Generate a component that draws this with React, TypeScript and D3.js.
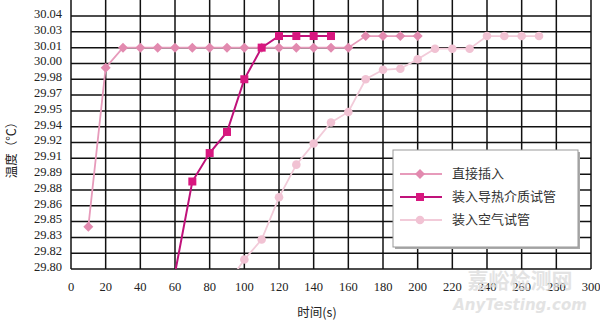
import React from "react";
import * as d3 from "d3";

const timeDirect = [10, 20, 30, 40, 50, 60, 70, 80, 90, 100, 110, 120, 130, 140, 150, 160, 170, 180, 190, 200];
const tempDirect = [29.84, 29.991, 30.01, 30.01, 30.01, 30.01, 30.01, 30.01, 30.01, 30.01, 30.01, 30.01, 30.01, 30.01, 30.01, 30.01, 30.021, 30.021, 30.021, 30.021];

const timeMedium = [60, 70, 80, 90, 100, 110, 120, 130, 140, 150];
const tempMedium = [29.796, 29.883, 29.91, 29.93, 29.98, 30.01, 30.021, 30.021, 30.021, 30.021];

const timeAir = [90, 100, 110, 120, 130, 140, 150, 160, 170, 180, 190, 200, 210, 220, 230, 240, 250, 260, 270];
const tempAir = [29.785, 29.809, 29.828, 29.868, 29.899, 29.919, 29.939, 29.949, 29.98, 29.989, 29.99, 29.999, 30.009, 30.009, 30.009, 30.021, 30.021, 30.021, 30.021];

const xTicks = [0, 20, 40, 60, 80, 100, 120, 140, 160, 180, 200, 220, 240, 260, 280, 300];
const yTicks = [29.8, 29.815, 29.83, 29.845, 29.86, 29.875, 29.89, 29.905, 29.92, 29.935, 29.95, 29.965, 29.98, 29.995, 30.01, 30.025, 30.04];
const yTickLabels = ["29.80", "29.82", "29.83", "29.85", "29.86", "29.88", "29.89", "29.91", "29.92", "29.94", "29.95", "29.97", "29.98", "30.00", "30.01", "30.03", "30.04"];

const seriesNames = ["直接插入", "装入导热介质试管", "装入空气试管"];

const W = 600, H = 321;
const L = 71, R = 591, B = 269, T = 0;

export default function App() {
  const x = d3.scaleLinear().domain([0, 300]).range([L, R]);
  const y = d3.scaleLinear().domain([29.8, 30.04]).range([B, 16]);
  const line = d3.line<[number, number]>().x(d => x(d[0])).y(d => y(d[1]));

  const s1 = timeDirect.map((t, i) => [t, tempDirect[i]] as [number, number]);
  const s2 = timeMedium.map((t, i) => [t, tempMedium[i]] as [number, number]);
  const s3 = timeAir.map((t, i) => [t, tempAir[i]] as [number, number]);

  const serif = "'Liberation Serif', 'Times New Roman', serif";
  const cjk = "'Noto Sans CJK SC', sans-serif";

  const c1 = { line: "#e79bbb", mark: "#e28aaf" };
  const c2 = { line: "#c0127a", mark: "#d8177f" };
  const c3 = { line: "#f2cbd9", mark: "#f1c2d3" };

  const diamond = (cx: number, cy: number, fill: string, k: string) => (
    <path key={k} d={`M${cx},${cy - 5}L${cx + 5},${cy}L${cx},${cy + 5}L${cx - 5},${cy}Z`} fill={fill} />
  );
  const square = (cx: number, cy: number, fill: string, k: string) => (
    <rect key={k} x={cx - 4} y={cy - 4} width={8} height={8} fill={fill} />
  );
  const circle = (cx: number, cy: number, fill: string, k: string) => (
    <circle key={k} cx={cx} cy={cy} r={4.3} fill={fill} />
  );

  const legendItems = [
    { name: seriesNames[0], c: c1, m: diamond, w: 1.8 },
    { name: seriesNames[1], c: c2, m: square, w: 2 },
    { name: seriesNames[2], c: c3, m: circle, w: 1.8 },
  ];
  const legendY = [174, 197, 220];

  return (
    <svg width={W} height={H} style={{ position: "absolute", left: 0, top: 0, background: "#fff" }}>
      <defs>
        <clipPath id="plot">
          <rect x={L} y={T} width={R - L} height={B - T} />
        </clipPath>
      </defs>
      {/* grid */}
      {yTicks.map((v, i) => (
        <line key={"h" + i} x1={L} x2={R} y1={y(v)} y2={y(v)} stroke="#111" strokeWidth={1.5} />
      ))}
      {xTicks.map((v, i) => (
        <line key={"v" + i} x1={x(v)} x2={x(v)} y1={T} y2={B} stroke="#111" strokeWidth={1.5} />
      ))}
      {/* series */}
      <g clipPath="url(#plot)">
        <path d={line(s3) || ""} fill="none" stroke={c3.line} strokeWidth={1.8} />
        <path d={line(s1) || ""} fill="none" stroke={c1.line} strokeWidth={1.8} />
        <path d={line(s2) || ""} fill="none" stroke={c2.line} strokeWidth={2} />
        {s3.map((d, i) => circle(x(d[0]), y(d[1]), c3.mark, "c" + i))}
        {s1.map((d, i) => diamond(x(d[0]), y(d[1]), c1.mark, "d" + i))}
        {s2.map((d, i) => square(x(d[0]), y(d[1]), c2.mark, "s" + i))}
      </g>
      {/* y labels */}
      {yTicks.map((v, i) => (
        <text key={"yl" + i} x={62} y={y(v) - 1} textAnchor="end" dominantBaseline="middle" fontFamily={serif} fontSize={12.5} fill="#222">
          {yTickLabels[i]}
        </text>
      ))}
      {/* x labels */}
      {xTicks.map((v, i) => (
        <text key={"xl" + i} x={x(v)} y={288} textAnchor="middle" dominantBaseline="middle" fontFamily={serif} fontSize={12.5} fill="#222">
          {v}
        </text>
      ))}
      {/* axis titles */}
      <text x={317} y={314} textAnchor="middle" dominantBaseline="middle" fontFamily={cjk} fontSize={12.5} fill="#222">
        时间(s)
      </text>
      <text transform="translate(13,147) rotate(-90)" textAnchor="middle" dominantBaseline="middle" fontFamily={cjk} fontSize={12.5} fill="#222">
        温度（℃）
      </text>
      {/* legend */}
      <rect x={395} y={152} width={185} height={97} fill="#aaa" />
      <rect x={393} y={150} width={185} height={97} fill="#fff" stroke="#999" strokeWidth={1} />
      {legendItems.map((it, i) => (
        <g key={"lg" + i}>
          <line x1={400} x2={442} y1={legendY[i]} y2={legendY[i]} stroke={it.c.line} strokeWidth={it.w} />
          {it.m(420, legendY[i], it.c.mark, "lm" + i)}
          <text x={452} y={legendY[i]} dominantBaseline="middle" fontFamily={cjk} fontSize={13} fill="#333">
            {it.name}
          </text>
        </g>
      ))}
      {/* watermark */}
      <text x={520} y={282} textAnchor="middle" dominantBaseline="middle" fontFamily={cjk} fontSize={21} fontWeight="bold" fill="#ddd" opacity={0.8}>
        嘉峪检测网
      </text>
      <text x={520} y={305} textAnchor="middle" dominantBaseline="middle" fontFamily="'DejaVu Sans', sans-serif" fontSize={15} fontStyle="italic" fontWeight="bold" fill="#ddd" opacity={0.8}>
        AnyTesting.com
      </text>
    </svg>
  );
}
